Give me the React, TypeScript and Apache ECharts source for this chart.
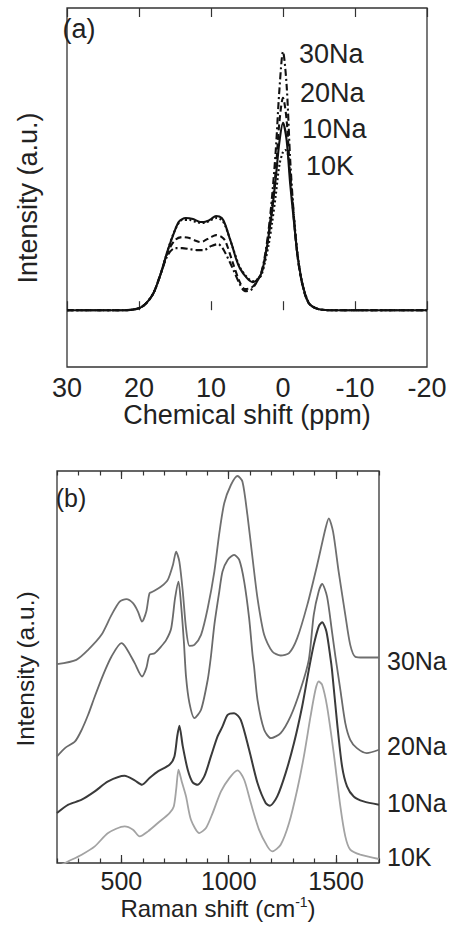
import React, { useEffect, useRef } from "react";
import * as echarts from "echarts";

// ---------- Panel (a): NMR spectra (chemical shift ppm, intensity a.u.) ----------
const nmrSeriesNames = ["30Na", "20Na", "10Na", "10K"];

const nmr10Na: number[][] = [
  [30, 0], [22, 0], [20, 2], [19, 7], [18, 17], [17, 36], [16, 60], [15, 80], [14.5, 88], [14, 91],
  [13.5, 92], [12.5, 91], [11.5, 88], [11, 88], [10.5, 89], [10, 91], [9.3, 94], [8.5, 92], [8, 85],
  [7.5, 74], [7, 63], [6.5, 51], [6, 42], [5, 32], [4.2, 28], [3.5, 31], [3, 37], [2.5, 52], [2, 74],
  [1.5, 100], [1, 132], [0.5, 168], [0, 187], [-0.5, 170], [-1, 126], [-1.5, 90], [-2, 56], [-2.5, 33],
  [-3, 18], [-3.5, 8], [-4, 4], [-5, 1], [-7, 0], [-20, 0],
];

const nmr20Na: number[][] = [
  [30, 0], [22, 0], [20, 2], [19, 7], [18, 17], [17, 36], [16, 58], [15, 70], [14, 73], [13, 72],
  [12, 69], [11.5, 68], [11, 69], [10, 73], [9.3, 75], [8.5, 73], [8, 69], [7, 48], [6, 28], [5.3, 21],
  [4.5, 22], [4, 25], [3.5, 30], [3, 37], [2.5, 52], [2, 76], [1.5, 105], [1, 140], [0.5, 188],
  [0, 212], [-0.5, 190], [-1, 135], [-1.5, 92], [-2, 55], [-2.5, 32], [-3, 17], [-3.5, 8], [-4, 4],
  [-5, 1], [-7, 0], [-20, 0],
];

const nmr30Na: number[][] = [
  [30, 0], [22, 0], [20, 2], [19, 7], [18, 17], [17, 36], [16, 55], [15, 62], [14, 62], [13, 61],
  [12, 60], [11, 60], [10, 64], [9, 66], [8.5, 63], [8, 57], [7, 42], [6, 26], [5.3, 19], [4.5, 20],
  [4, 24], [3.5, 30], [3, 38], [2.5, 55], [2, 80], [1.5, 115], [1, 160], [0.5, 220], [0, 258],
  [-0.5, 225], [-1, 150], [-1.5, 95], [-2, 55], [-2.5, 32], [-3, 17], [-3.5, 8], [-4, 4], [-5, 1],
  [-7, 0], [-20, 0],
];

const nmr10K: number[][] = [
  [30, 0], [22, 0], [20, 2], [19, 7], [18, 17], [17, 36], [16, 60], [15, 80], [14, 90], [13, 90],
  [12, 88], [11, 87], [10, 90], [9.2, 92], [8.5, 90], [8, 84], [7, 63], [6, 43], [5, 33], [4.2, 29],
  [3.5, 31], [3, 35], [2.5, 48], [2, 65], [1.5, 88], [1, 115], [0.5, 145], [0, 158], [-0.3, 160],
  [-0.7, 155], [-1, 135], [-1.5, 95], [-2, 58], [-2.5, 33], [-3, 18], [-3.5, 9], [-4, 4], [-5, 1],
  [-7, 0], [-20, 0],
];

// ---------- Panel (b): Raman spectra (offset, a.u.) ----------
const ramanSeriesNames = ["30Na", "20Na", "10Na", "10K"];

const raman30Na: number[][] = [
  [200, 597], [290, 610], [345, 640], [407, 685], [454, 745], [492, 785], [523, 792], [554, 780],
  [577, 755], [596, 725], [616, 755], [631, 810], [647, 815], [685, 830], [716, 850], [740, 895],
  [755, 935], [770, 905], [786, 815], [801, 705], [817, 652], [840, 655], [871, 685], [902, 765],
  [933, 875], [956, 990], [979, 1080], [1010, 1135], [1041, 1162], [1064, 1145], [1087, 1045],
  [1111, 915], [1134, 795], [1165, 685], [1203, 635], [1242, 623], [1281, 630], [1319, 675],
  [1366, 775], [1412, 895], [1451, 1005], [1466, 1035], [1486, 995], [1512, 875], [1543, 745],
  [1566, 655], [1590, 619], [1628, 617], [1700, 617],
];

const raman20Na: number[][] = [
  [200, 320], [237, 345], [284, 365], [315, 400], [345, 445], [376, 500], [415, 565], [454, 620],
  [500, 660], [523, 645], [562, 600], [596, 560], [616, 585], [631, 625], [655, 630], [685, 650],
  [709, 670], [732, 705], [750, 795], [766, 845], [778, 775], [791, 665], [801, 560], [817, 480],
  [840, 435], [871, 460], [902, 550], [917, 620], [933, 715], [956, 815], [971, 875], [995, 910],
  [1025, 925], [1049, 910], [1072, 845], [1095, 735], [1111, 625], [1118, 590], [1134, 490],
  [1165, 400], [1196, 375], [1242, 390], [1288, 440], [1334, 520], [1373, 610], [1396, 745],
  [1419, 815], [1435, 838], [1458, 800], [1481, 695], [1497, 620], [1520, 520], [1543, 420],
  [1566, 370], [1597, 345], [1643, 330], [1700, 340],
];

const raman10Na: number[][] = [
  [200, 150], [253, 175], [315, 190], [376, 215], [438, 245], [515, 262], [562, 248], [596, 235],
  [631, 255], [670, 275], [724, 295], [747, 320], [760, 380], [770, 412], [786, 350], [809, 280],
  [832, 242], [855, 235], [886, 260], [917, 320], [948, 380], [971, 410], [995, 445], [1025, 450],
  [1056, 430], [1095, 340], [1134, 240], [1172, 180], [1192, 172], [1226, 200], [1265, 270],
  [1304, 360], [1342, 470], [1373, 580], [1396, 655], [1419, 710], [1435, 723], [1455, 695],
  [1474, 615], [1481, 580], [1505, 420], [1528, 290], [1551, 230], [1582, 200], [1628, 185],
  [1700, 175],
];

const raman10K: number[][] = [
  [200, -12], [253, 5], [315, 25], [376, 50], [438, 90], [515, 110], [554, 100], [585, 80],
  [624, 95], [670, 120], [724, 150], [744, 170], [755, 220], [766, 280], [781, 245], [801, 200],
  [824, 130], [863, 90], [894, 105], [925, 150], [964, 215], [1003, 255], [1041, 278], [1072, 250],
  [1103, 180], [1141, 100], [1180, 50], [1203, 35], [1242, 55], [1281, 120], [1319, 220],
  [1350, 320], [1381, 440], [1404, 520], [1419, 545], [1435, 535], [1458, 470], [1489, 330],
  [1520, 170], [1543, 80], [1566, 40], [1613, 25], [1700, 12],
];

const nmrTicks = { min: -20, max: 30, interval: 10 };
const ramanTicks = { min: 200, max: 1700, minor: 100, major: [500, 1000, 1500] };

const FONT = "'Liberation Sans', Arial, Helvetica, sans-serif";

export default function App() {
  const ref = useRef<HTMLDivElement>(null);

  useEffect(() => {
    document.body.style.margin = "0";
    if (!ref.current) return;
    const chart = echarts.init(ref.current, undefined, { renderer: "svg" });

    const axisCommonHidden = {
      axisLine: { show: false },
      splitLine: { show: false },
    };
    const tickStyle = { color: "#333", width: 1.2 };

    const nmrX = (position: "bottom" | "top", withLabels: boolean) => ({
      type: "value",
      gridIndex: 0,
      position,
      inverse: true,
      min: nmrTicks.min,
      max: nmrTicks.max,
      interval: nmrTicks.interval,
      ...axisCommonHidden,
      axisTick: { show: true, inside: true, length: 9, lineStyle: tickStyle },
      axisLabel: {
        show: withLabels,
        fontSize: 27,
        color: "#222",
        fontFamily: FONT,
        margin: 7,
      },
      ...(withLabels
        ? {
            name: "Chemical shift (ppm)",
            nameLocation: "middle",
            nameGap: 34,
            nameTextStyle: { fontSize: 27, color: "#222", fontFamily: FONT },
          }
        : {}),
    });

    const ramanXMinor = (position: "bottom" | "top", withLabels: boolean) => ({
      type: "value",
      gridIndex: 1,
      position,
      min: ramanTicks.min,
      max: ramanTicks.max,
      interval: ramanTicks.minor,
      ...axisCommonHidden,
      axisTick: { show: true, inside: true, length: 4.5, lineStyle: tickStyle },
      axisLabel: {
        show: withLabels,
        fontSize: 25,
        color: "#222",
        fontFamily: FONT,
        margin: 5,
        formatter: (v: number) => (ramanTicks.major.includes(v) ? String(v) : ""),
      },
      ...(withLabels
        ? {
            name: "Raman shift (cm{sup|-1})",
            nameLocation: "middle",
            nameGap: 32,
            nameTextStyle: {
              fontSize: 24,
              color: "#222",
              fontFamily: FONT,
              rich: {
                sup: { fontSize: 14, color: "#222", fontFamily: FONT, padding: [0, 0, 12, 0] },
              },
            },
          }
        : {}),
    });

    const ramanXMajor = (position: "bottom" | "top") => ({
      type: "value",
      gridIndex: 1,
      position,
      min: ramanTicks.min,
      max: ramanTicks.max,
      ...axisCommonHidden,
      axisTick: {
        show: true,
        inside: true,
        length: 8,
        lineStyle: tickStyle,
        customValues: ramanTicks.major,
      },
      axisLabel: { show: false, customValues: ramanTicks.major },
    });

    const nmrLine = (name: string, data: number[][], type: any) => ({
      name,
      type: "line",
      xAxisIndex: 0,
      yAxisIndex: 0,
      data,
      smooth: 0.3,
      showSymbol: false,
      symbol: "none",
      lineStyle: { color: "#111", width: 2.1, type },
      z: 3,
    });

    const ramanLine = (name: string, data: number[][], color: string, width: number) => ({
      name: "Raman " + name,
      type: "line",
      xAxisIndex: 2,
      yAxisIndex: 1,
      data,
      smooth: 0.25,
      showSymbol: false,
      symbol: "none",
      lineStyle: { color, width },
      z: 3,
    });

    const txt = (
      text: string,
      x: number,
      y: number,
      fontSize: number,
      align: string = "left",
      rotation = 0
    ) => ({
      type: "text",
      x,
      y,
      rotation,
      style: {
        text,
        fontSize,
        fontFamily: FONT,
        fill: "#222",
        textAlign: align,
        textVerticalAlign: "middle",
      },
      z: 10,
    });

    const option: any = {
      animation: false,
      backgroundColor: "#fff",
      grid: [
        {
          left: 67,
          top: 8,
          width: 360,
          height: 359,
          show: true,
          borderColor: "#333",
          borderWidth: 1.3,
          backgroundColor: "transparent",
        },
        {
          left: 57,
          top: 471,
          width: 322,
          height: 392,
          show: true,
          borderColor: "#333",
          borderWidth: 1.3,
          backgroundColor: "transparent",
        },
      ],
      xAxis: [
        nmrX("bottom", true),
        nmrX("top", false),
        ramanXMinor("bottom", true),
        ramanXMajor("bottom"),
        ramanXMinor("top", false),
        ramanXMajor("top"),
      ],
      yAxis: [
        {
          type: "value",
          gridIndex: 0,
          min: -56.7,
          max: 301.7,
          ...axisCommonHidden,
          axisTick: { show: false },
          axisLabel: { show: false },
        },
        {
          type: "value",
          gridIndex: 1,
          min: 0,
          max: 1177,
          ...axisCommonHidden,
          axisTick: { show: false },
          axisLabel: { show: false },
        },
      ],
      series: [
        nmrLine(nmrSeriesNames[0], nmr30Na, [7, 3, 2, 3]),
        nmrLine(nmrSeriesNames[1], nmr20Na, [6, 3.5]),
        nmrLine(nmrSeriesNames[3], nmr10K, [2, 2.5]),
        nmrLine(nmrSeriesNames[2], nmr10Na, "solid"),
        ramanLine(ramanSeriesNames[0], raman30Na, "#6f6f6f", 1.8),
        ramanLine(ramanSeriesNames[1], raman20Na, "#6a6a6a", 1.8),
        ramanLine(ramanSeriesNames[2], raman10Na, "#3a3a3a", 2),
        ramanLine(ramanSeriesNames[3], raman10K, "#a3a3a3", 1.8),
      ],
      graphic: [
        txt("(a)", 79, 29, 27, "center"),
        txt(nmrSeriesNames[0], 299, 54, 27),
        txt(nmrSeriesNames[1], 300, 93, 27),
        txt(nmrSeriesNames[2], 302, 129, 27),
        txt(nmrSeriesNames[3], 306, 166, 27),
        txt("Intensity (a.u.)", 28, 198, 27, "center", Math.PI / 2),
        txt("(b)", 71, 498, 25, "center"),
        txt(ramanSeriesNames[0], 387, 661, 25),
        txt(ramanSeriesNames[1], 387, 746, 25),
        txt(ramanSeriesNames[2], 387, 803, 25),
        txt(ramanSeriesNames[3], 387, 857, 25),
        txt("Intensity (a.u.)", 25, 669, 24.5, "center", Math.PI / 2),
      ],
    };

    chart.setOption(option);
    return () => chart.dispose();
  }, []);

  return (
    <div
      ref={ref}
      style={{ position: "absolute", left: 0, top: 0, width: 453, height: 931, background: "#fff" }}
    />
  );
}
